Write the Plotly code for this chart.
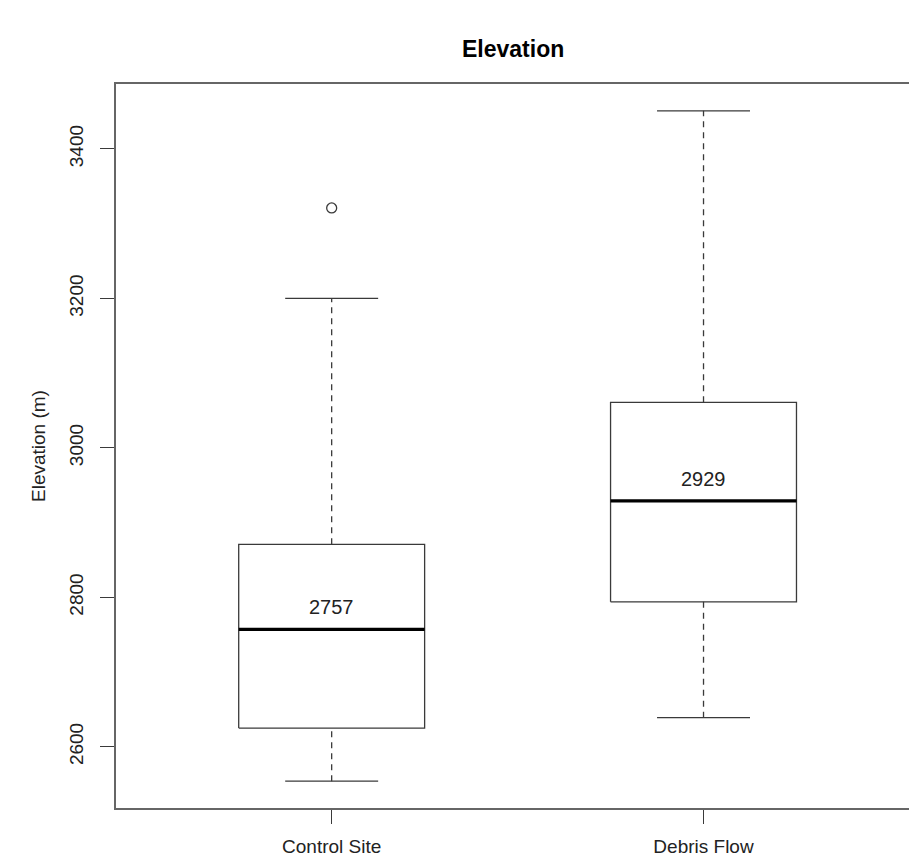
import plotly.graph_objects as go

# Summary statistics of elevation (m) for each site group
categories = ["Control Site", "Debris Flow"]
lower_whisker = [2554, 2639]
q1 = [2625, 2794]
median = [2757, 2929]
q3 = [2871, 3061]
upper_whisker = [3200, 3451]
outliers = [[3321], []]

y_ticks = [2600, 2800, 3000, 3200, 3400]

BOX_HALF = 0.25      # half width of each box (x units)
CAP_HALF = 0.125     # half width of the whisker staples
LINE = "#3a3a3a"
FONT = "Liberation Sans, Arial, sans-serif"

fig = go.Figure()

for i, name in enumerate(categories):
    xc = i + 1
    # box outline
    fig.add_trace(go.Scatter(
        x=[xc - BOX_HALF, xc + BOX_HALF, xc + BOX_HALF, xc - BOX_HALF, xc - BOX_HALF],
        y=[q1[i], q1[i], q3[i], q3[i], q1[i]],
        mode="lines", line=dict(color=LINE, width=1.3),
        hoverinfo="skip", showlegend=False))
    # median
    fig.add_trace(go.Scatter(
        x=[xc - BOX_HALF, xc + BOX_HALF], y=[median[i], median[i]],
        mode="lines", line=dict(color="black", width=3.2),
        hoverinfo="skip", showlegend=False))
    # dashed whiskers
    for a, b in ((lower_whisker[i], q1[i]), (q3[i], upper_whisker[i])):
        fig.add_trace(go.Scatter(
            x=[xc, xc], y=[a, b], mode="lines",
            line=dict(color=LINE, width=1.3, dash="6px,5px"),
            hoverinfo="skip", showlegend=False))
    # staples
    for v in (lower_whisker[i], upper_whisker[i]):
        fig.add_trace(go.Scatter(
            x=[xc - CAP_HALF, xc + CAP_HALF], y=[v, v], mode="lines",
            line=dict(color=LINE, width=1.3),
            hoverinfo="skip", showlegend=False))
    # outliers
    if outliers[i]:
        fig.add_trace(go.Scatter(
            x=[xc] * len(outliers[i]), y=outliers[i], mode="markers",
            marker=dict(symbol="circle-open", size=10, color=LINE,
                        line=dict(width=1.3)),
            hoverinfo="skip", showlegend=False))
    # median value label
    fig.add_annotation(x=xc, y=median[i], text=str(median[i]),
                       showarrow=False, yshift=22, yanchor="middle",
                       font=dict(family=FONT, size=20, color="#222"))

lo, hi = min(lower_whisker), max(upper_whisker)
pad = 0.04 * (hi - lo)

# y-axis title placed as a rotated label left of the tick labels
fig.add_annotation(xref="paper", yref="paper", x=-116 / 793 + 38 / 793,
                   y=0.5, text="Elevation (m)", textangle=-90,
                   showarrow=False, xanchor="center", yanchor="middle",
                   font=dict(size=19, family=FONT, color="#222"))

fig.update_layout(
    width=909, height=861,
    margin=dict(l=116, r=0, t=84, b=53, autoexpand=False),
    paper_bgcolor="white", plot_bgcolor="white",
    title=dict(text="<b>Elevation</b>", x=0.5645, xanchor="center",
               y=1 - 49 / 861, yanchor="middle",
               font=dict(family=FONT, size=23, color="black")),
    font=dict(family=FONT, size=19, color="#222"),
    xaxis=dict(range=[0.42, 2.5526], tickvals=[1, 2], ticktext=categories,
               ticks="outside", ticklen=14, tickwidth=1.3, tickcolor=LINE,
               ticklabelstandoff=6,
               showline=True, mirror=True, linecolor="#666", linewidth=1.5,
               showgrid=False, zeroline=False, fixedrange=True,
               tickfont=dict(size=19, family=FONT, color="#222")),
    yaxis=dict(range=[lo - pad, hi + pad], tickvals=y_ticks,
               ticks="outside", ticklen=14, tickwidth=1.3, tickcolor=LINE,
               tickangle=-90, ticklabelstandoff=10,
               showline=True, mirror=False, linecolor="#666", linewidth=1.5,
               showgrid=False, zeroline=False, fixedrange=True,
               tickfont=dict(size=19, family=FONT, color="#222")),
)

fig.write_html("out.html")
